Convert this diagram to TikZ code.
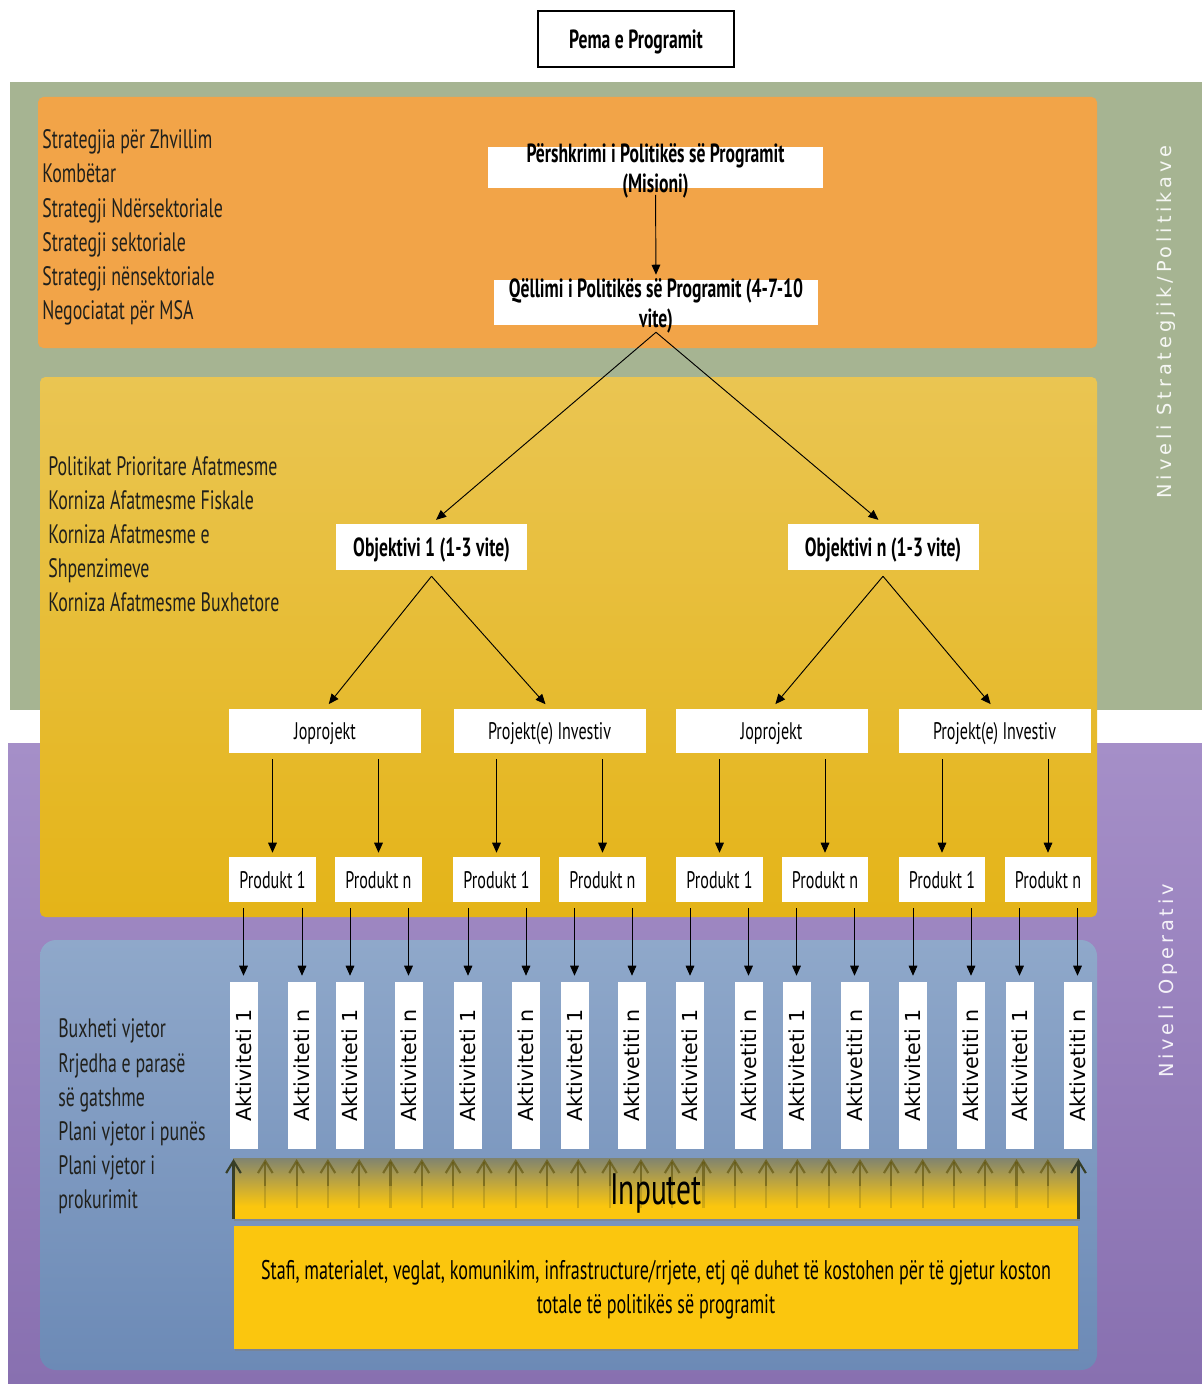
\documentclass[tikz,border=0pt]{standalone}
\usepackage{graphicx}
\usepackage{fontspec}
\setmainfont{PT Sans}[FakeStretch=0.67]
\newfontfamily\actfont{DejaVu Sans}
\newfontfamily\sidefont{DejaVu Sans}[LetterSpace=20]
\usetikzlibrary{arrows.meta,calc,shadows}

\definecolor{bandgreen}{RGB}{166,180,146}
\definecolor{bandorange}{RGB}{242,164,72}
\definecolor{yelTop}{RGB}{234,197,82}
\definecolor{yelMid}{RGB}{238,192,36}
\definecolor{yelBot}{RGB}{228,180,24}
\definecolor{blueTop}{RGB}{143,168,202}
\definecolor{blueBot}{RGB}{108,138,182}
\definecolor{purTop}{RGB}{165,143,200}
\definecolor{purBot}{RGB}{136,112,176}
\definecolor{inYellow}{RGB}{251,198,14}
\definecolor{inTop}{RGB}{128,132,112}
\definecolor{inMid}{RGB}{172,145,45}
\definecolor{olive}{RGB}{100,88,18}
\definecolor{edgeolive}{RGB}{55,62,38}
\definecolor{txt}{RGB}{32,32,28}

\tikzset{
  arr/.style={-{Triangle[length=7.5pt,width=6.5pt]}, line width=0.7pt, black},
  whitebox/.style={fill=white, inner sep=0pt},
  boldtxt/.style={font=\fontsize{19.7}{22.5}\selectfont\bfseries, align=center, text=black},
  normtxt/.style={font=\fontsize{18}{22}\selectfont, text=black, text depth=0pt},
  sidelist/.style={font=\fontsize{20}{25.6}\selectfont, align=left, text=txt, anchor=west, inner sep=0pt},
  objbox/.style={whitebox, boldtxt, minimum width=143.25pt, minimum height=34.5pt, text depth=0pt},
  projbox/.style={whitebox, normtxt, minimum width=144pt, minimum height=33pt},
  prodbox/.style={whitebox, normtxt, minimum width=64.9pt, minimum height=33.75pt},
  aktbox/.style={whitebox, font=\actfont\fontsize{15.5}{18}\selectfont, minimum width=21pt, minimum height=125.25pt},
  sidelabel/.style={font=\sidefont\fontsize{14.5}{17}\selectfont, text=white, text opacity=0.9, rotate=90},
  inhead/.style={-{Straight Barb[length=9pt,width=11pt]}, line width=1.6pt},
}

\begin{document}
\begin{tikzpicture}[x=0.75pt,y=-0.75pt]
\useasboundingbox (0,0) rectangle (1202,1384);
\fill[white] (0,0) rectangle (1202,1384);

% level bands
\fill[bandgreen] (10,82) rectangle (1202,710);
\shade[top color=purTop, bottom color=purBot] (8,743) rectangle (1202,1384);

% panels
\fill[bandorange, rounded corners=4pt] (38,97) rectangle (1097,348);
\shade[top color=yelTop, middle color=yelMid, bottom color=yelBot, rounded corners=4pt] (40,377) rectangle (1097,917);
\shade[top color=blueTop, bottom color=blueBot, rounded corners=12pt] (40,940) rectangle (1097,1370);

% side labels
\node[sidelabel] (lvlS) at (1166,322) {Niveli Strategjik/Politikave};
\node[sidelabel] (lvlO) at (1168,981) {Niveli Operativ};

% title
\node[draw=black, line width=1.5pt, fill=white, font=\fontsize{19.7}{22}\selectfont\bfseries, text depth=0pt,
      minimum width=147pt, minimum height=42pt] (title) at (636,39) {Pema e Programit};

% left lists
\node[sidelist] (listA) at (42,227.5) {Strategjia për Zhvillim\\Kombëtar\\Strategji Ndërsektoriale\\Strategji sektoriale\\Strategji nënsektoriale\\Negociatat për MSA};
\node[sidelist] (listB) at (48,534) {Politikat Prioritare Afatmesme\\Korniza Afatmesme Fiskale\\Korniza Afatmesme e\\Shpenzimeve\\Korniza Afatmesme Buxhetore};
\node[sidelist] (listC) at (58,1116.5) {Buxheti vjetor\\Rrjedha e parasë\\së gatshme\\Plani vjetor i punës\\Plani vjetor i\\prokurimit};

% policy boxes
\node[whitebox, minimum width=251.25pt, minimum height=30.75pt] (mis) at (655.5,167.5) {};
\node[boldtxt] (mistxt) at ($(mis.center)+(0,3)$) {Përshkrimi i Politikës së Programit\\(Misioni)};
\node[whitebox, minimum width=243pt, minimum height=33.75pt] (goal) at (656,302.5) {};
\node[boldtxt] (goaltxt) at ($(goal.center)+(0,3)$) {Qëllimi i Politikës së Programit (4-7-10\\vite)};
\draw[arr, shorten <=5pt, shorten >=3.75pt] (mis.south) -- (goal.north);

% objectives
\node[objbox] (o1) at (431.5,547) {Objektivi 1 (1-3 vite)};
\node[objbox] (on) at (883,547) {Objektivi n (1-3 vite)};
\coordinate (goalTip) at ($(goal.south)+(0,7)$);
\draw[arr, shorten >=4.5pt] (goalTip) -- (o1.north);
\draw[arr, shorten >=4.5pt] (goalTip) -- (on.north);

% projects
\node[projbox] (jp1) at (325,731) {Joprojekt};
\node[projbox] (pi1) at (549.5,731) {Projekt(e) Investiv};
\node[projbox] (jp2) at (771.5,731) {Joprojekt};
\node[projbox] (pi2) at (994.5,731) {Projekt(e) Investiv};
\coordinate (o1Tip) at ($(o1.south)+(0,6)$);
\coordinate (onTip) at ($(on.south)+(0,6)$);
\draw[arr, shorten >=4.5pt] (o1Tip) -- (jp1.north);
\draw[arr, shorten >=4.5pt] (o1Tip) -- (pi1.north);
\draw[arr, shorten >=4.5pt] (onTip) -- (jp2.north);
\draw[arr, shorten >=4.5pt] (onTip) -- (pi2.north);

% products
\foreach \n/\x/\t in {p1/272.5/Produkt 1, p2/378.5/Produkt n, p3/496.5/Produkt 1, p4/602.5/Produkt n,
                      p5/719.5/Produkt 1, p6/825/Produkt n, p7/942/Produkt 1, p8/1048/Produkt n}
  \node[prodbox] (\n) at (\x,879.5) {\t};
\foreach \s/\t in {jp1/p1, jp1/p2, pi1/p3, pi1/p4, jp2/p5, jp2/p6, pi2/p7, pi2/p8}
  \draw[arr, shorten <=4.5pt, shorten >=3pt] (\s.south -| \t) -- (\t.north);

% activities
\foreach \n/\x/\t in {a1/243.5/Aktiviteti 1, a2/302/Aktiviteti n, a3/350/Aktiviteti 1, a4/408.5/Aktiviteti n,
                      a5/468/Aktiviteti 1, a6/526/Aktiviteti n, a7/574.5/Aktiviteti 1, a8/632/Aktivetiti n,
                      a9/690/Aktiviteti 1, a10/748.5/Aktivetiti n, a11/796.5/Aktiviteti 1, a12/854.5/Aktivetiti n,
                      a13/913/Aktiviteti 1, a14/971/Aktivetiti n, a15/1019.5/Aktiviteti 1, a16/1077.5/Aktivetiti n}
  \node[aktbox] (\n) at (\x,1065.5) {\rotatebox{90}{\t}};
\foreach \s/\t in {p1/a1, p1/a2, p2/a3, p2/a4, p3/a5, p3/a6, p4/a7, p4/a8,
                   p5/a9, p5/a10, p6/a11, p6/a12, p7/a13, p7/a14, p8/a15, p8/a16}
  \draw[arr, shorten <=4.5pt, shorten >=4.5pt] (\s.south -| \t) -- (\t.north);

% inputs band
\fill[inYellow, drop shadow={shadow xshift=0.8pt, shadow yshift=-1.5pt, opacity=0.55}] (233,1158) rectangle (1079,1219);
\shade[top color=inTop, middle color=inMid, bottom color=inYellow] (233,1158) rectangle (1079,1206);
\foreach \i in {1,...,26}{
  \draw[olive, line width=1.6pt, opacity=0.25] (234+\i*31.3,1208) -- (234+\i*31.3,1186);
  \draw[inhead, olive, opacity=0.7] (234+\i*31.3,1186) -- (234+\i*31.3,1159);
}
\draw[inhead, edgeolive] (233.5,1219) -- (233.5,1159);
\draw[inhead, edgeolive] (1078.5,1219) -- (1078.5,1159);
\node[font=\fontsize{33}{36}\selectfont, text=black] (inputs) at (656,1193) {Inputet};

% inputs description
\node[fill=inYellow, minimum width=633pt, minimum height=92.25pt, align=center,
      font=\fontsize{20.25}{25.5}\selectfont, text=black,
      drop shadow={shadow xshift=1pt, shadow yshift=-2pt, opacity=0.55}] (res) at (656,1287) {};
\node[align=center, font=\fontsize{20.25}{25.5}\selectfont, text=black] (restxt) at ($(res.center)+(0,3)$)
  {Stafi, materialet, veglat, komunikim, infrastructure/rrjete, etj që duhet të kostohen për të gjetur koston\\totale të politikës së programit};
\end{tikzpicture}
\end{document}
